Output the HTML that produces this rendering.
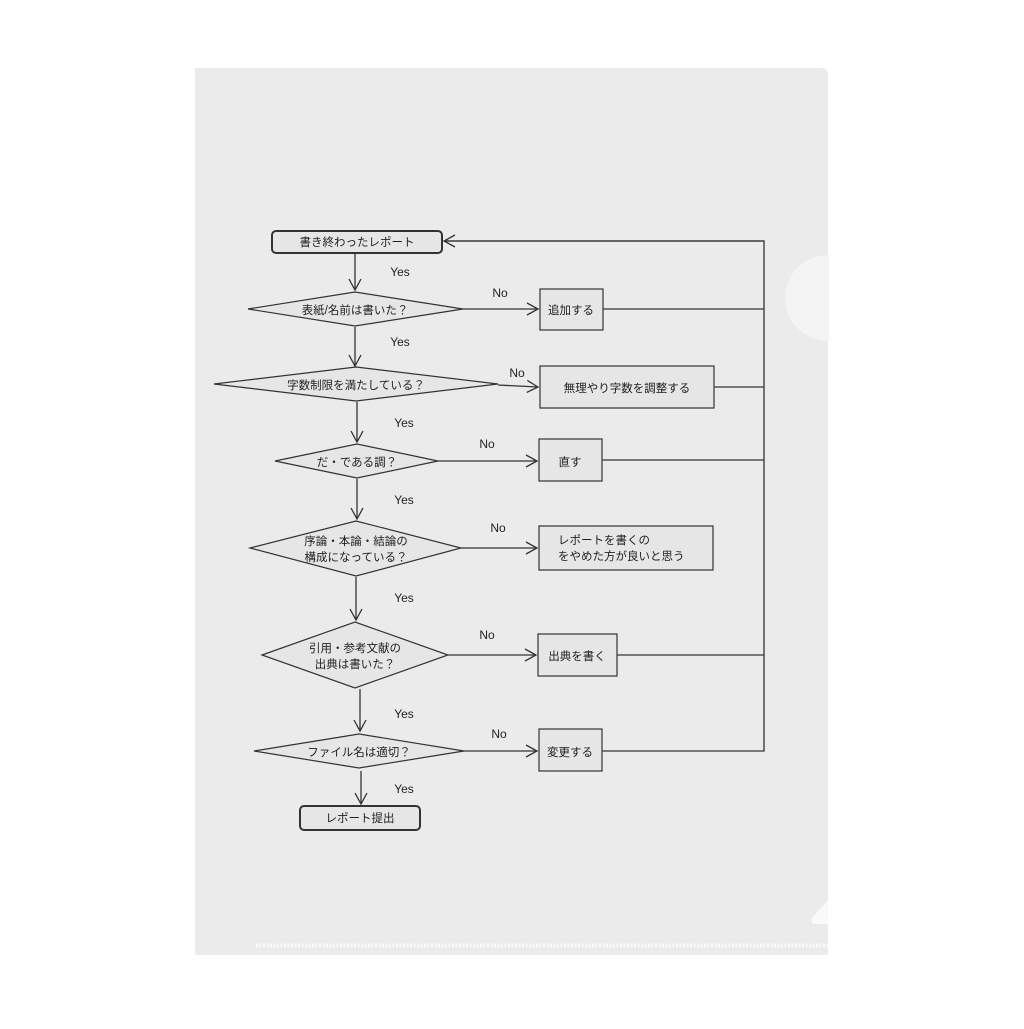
<!DOCTYPE html>
<html><head><meta charset="utf-8"><style>
html,body{margin:0;padding:0;background:#fff;}
svg text{font-family:"Liberation Sans","Noto Sans CJK JP",sans-serif;fill:#222;}
</style></head><body>
<svg width="1024" height="1024" viewBox="0 0 1024 1024" xmlns="http://www.w3.org/2000/svg">
<defs>
<marker id="a" markerWidth="14" markerHeight="14" refX="12" refY="7" orient="auto" markerUnits="userSpaceOnUse">
<path d="M1,1 L12,7 L1,13" fill="none" stroke="#333" stroke-width="1.3"/></marker>
</defs>
<path d="M195,68 H820 Q828,68 828,76 V955 H195 Z" fill="#ebebeb"/>
<circle cx="828" cy="298" r="43" fill="#f4f4f4"/>
<rect x="829" y="250" width="50" height="100" fill="#fff"/>
<line x1="256" y1="945.5" x2="828" y2="945.5" stroke="#fafafa" stroke-width="4" stroke-dasharray="2,1.5"/>
<path d="M828,900 L812,918 Q810,924 816,924 L828,924 Z" fill="#fafafa"/>
<g stroke="#333" stroke-width="1.3" fill="none">
<line x1="355" y1="254" x2="355" y2="290" marker-end="url(#a)"/>
<line x1="355" y1="327" x2="355" y2="366" marker-end="url(#a)"/>
<line x1="357" y1="402" x2="357" y2="442" marker-end="url(#a)"/>
<line x1="357" y1="479" x2="357" y2="519" marker-end="url(#a)"/>
<line x1="356" y1="577" x2="356" y2="620" marker-end="url(#a)"/>
<line x1="360" y1="689" x2="360" y2="731" marker-end="url(#a)"/>
<line x1="361" y1="771" x2="361" y2="804" marker-end="url(#a)"/>
<line x1="463" y1="309" x2="538" y2="309" marker-end="url(#a)"/>
<line x1="498" y1="385" x2="538" y2="387" marker-end="url(#a)"/>
<line x1="438" y1="461" x2="537" y2="461" marker-end="url(#a)"/>
<line x1="461" y1="548" x2="537" y2="548" marker-end="url(#a)"/>
<line x1="448" y1="655" x2="536" y2="655" marker-end="url(#a)"/>
<line x1="464" y1="751" x2="537" y2="751" marker-end="url(#a)"/>
<path d="M603,309 H764 M714,387 H764 M602,460 H764 M617,655 H764 M602,751 H764 V241 H444" />
<line x1="764" y1="241" x2="444" y2="241" marker-end="url(#a)"/>
</g>
<g stroke="#333" stroke-width="1.2" fill="#e6e6e6">
<rect x="272" y="231" width="170" height="22" rx="4" stroke-width="2"/>
<rect x="300" y="806" width="120" height="24" rx="4" stroke-width="2"/>
<polygon points="248,309 355,292 463,309 355,326"/>
<polygon points="214,384 356,367 498,384 356,401"/>
<polygon points="275,461 357,444 438,461 357,478"/>
<polygon points="250,548 356,521 461,548 356,576"/>
<polygon points="262,655 355,622 448,655 355,688"/>
<polygon points="254,751 359,734 464,751 359,768"/>
<rect x="540" y="289" width="63" height="41"/>
<rect x="540" y="366" width="174" height="42"/>
<rect x="539" y="439" width="63" height="42"/>
<rect x="539" y="526" width="174" height="44"/>
<rect x="538" y="634" width="79" height="42"/>
<rect x="539" y="729" width="63" height="42"/>
</g>
<g font-size="11.5" text-anchor="middle">
<text x="357" y="246">書き終わったレポート</text>
<text x="360" y="822">レポート提出</text>
<text x="355" y="314">表紙/名前は書いた？</text>
<text x="356" y="389">字数制限を満たしている？</text>
<text x="357" y="466">だ・である調？</text>
<text x="356" y="545">序論・本論・結論の</text>
<text x="356" y="561">構成になっている？</text>
<text x="355" y="652">引用・参考文献の</text>
<text x="355" y="668">出典は書いた？</text>
<text x="359" y="756">ファイル名は適切？</text>
<text x="571" y="314">追加する</text>
<text x="627" y="392">無理やり字数を調整する</text>
<text x="570" y="466">直す</text>
<text x="558" y="544" text-anchor="start">レポートを書くの</text>
<text x="558" y="560" text-anchor="start">をやめた方が良いと思う</text>
<text x="577" y="660">出典を書く</text>
<text x="570" y="756">変更する</text>
</g>
<g font-size="12" text-anchor="middle">
<text x="400" y="276">Yes</text><text x="400" y="346">Yes</text><text x="404" y="427">Yes</text>
<text x="404" y="504">Yes</text><text x="404" y="602">Yes</text><text x="404" y="718">Yes</text><text x="404" y="793">Yes</text>
<text x="500" y="297">No</text><text x="517" y="377">No</text><text x="487" y="448">No</text>
<text x="498" y="532">No</text><text x="487" y="639">No</text><text x="499" y="738">No</text>
</g>
</svg>
</body></html>
